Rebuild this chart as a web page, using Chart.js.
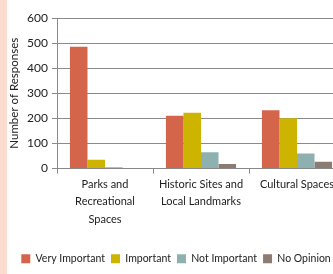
<!DOCTYPE html>
<html>
<head>
<meta charset="utf-8">
<script src="https://cdn.jsdelivr.net/npm/chart.js@4/dist/chart.umd.min.js"></script>
<style>
  html, body { margin: 0; padding: 0; background: #fff; overflow: hidden; }
  #wrap { position: relative; width: 333px; height: 274px; overflow: hidden; }
  #strip { position: absolute; left: 0; top: 0; width: 7px; height: 274px; background: #fbdccf; }
  #box { position: absolute; left: 0; top: 0; width: 345px; height: 274px; }
</style>
</head>
<body>
<div id="wrap">
  <div id="box"><canvas id="c"></canvas></div>
  <div id="strip"></div>
</div>
<script>
// ── Data ─────────────────────────────────────────────────────────────────────
const categories = [["Parks and", "Recreational", "Spaces"], ["Historic Sites and", "Local Landmarks"], "Cultural Spaces"];
const veryImportant = [485, 210, 232];
const important     = [35, 222, 200];
const notImportant  = [5, 65, 60];
const noOpinion     = [2, 18, 27];
const yTicks = [0, 100, 200, 300, 400, 500, 600];

const FAMILY = "Lato";

const series = [
  { label: "Very Important", data: veryImportant, color: "#d4654a" },
  { label: "Important",      data: important,     color: "#cdb400" },
  { label: "Not Important",  data: notImportant,  color: "#8fb0b0" },
  { label: "No Opinion",     data: noOpinion,     color: "#8c7b70" }
];

new Chart(document.getElementById("c"), {
  type: "bar",
  data: {
    labels: categories,
    datasets: series.map(s => ({
      label: s.label, data: s.data, backgroundColor: s.color,
      borderWidth: 0, categoryPercentage: 0.73, barPercentage: 1
    }))
  },
  options: {
    responsive: true,
    maintainAspectRatio: false,
    animation: false,
    layout: { padding: { left: 7, right: 0, top: 18, bottom: 0 } },
    plugins: {
      tooltip: { enabled: false },
      legend: {
        position: "bottom",
        labels: { font: { family: FAMILY, size: 10.5 }, color: "#222", boxWidth: 9, boxHeight: 9, padding: 6 }
      }
    },
    scales: {
      x: {
        grid: { drawOnChartArea: false, offset: true, tickLength: 5, color: "#888" },
        border: { color: "#888" },
        ticks: { font: { family: FAMILY, size: 11, lineHeight: 1.6 }, color: "#222", maxRotation: 0, autoSkip: false, padding: 2 },
        afterFit: a => { a.height = 79; }
      },
      y: {
        min: 0, max: 600,
        afterBuildTicks: a => { a.ticks = yTicks.map(v => ({ value: v })); },
        grid: { color: "#8a8a8a", tickLength: 5 },
        border: { color: "#8a8a8a" },
        ticks: { font: { family: FAMILY, size: 12 }, color: "#222", padding: 4 },
        title: { display: true, text: "Number of Responses", font: { family: FAMILY, size: 11.5 }, color: "#222", padding: 0 },
        afterFit: a => { a.width = 50; }
      }
    }
  }
});
</script>
</body>
</html>
